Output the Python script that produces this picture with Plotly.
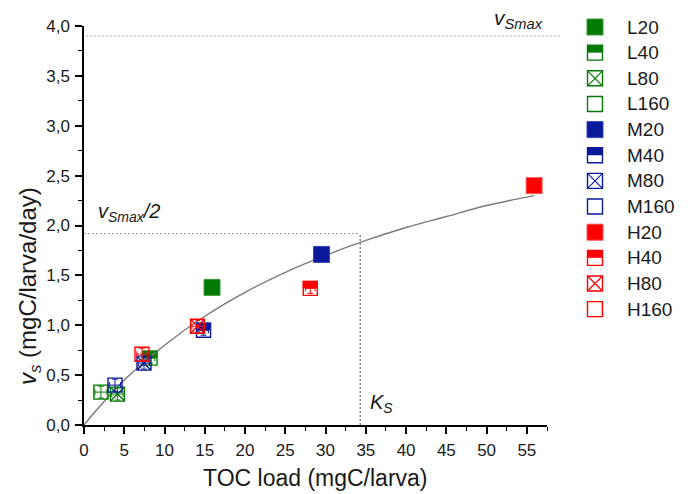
import plotly.graph_objects as go

# ---------------- data ----------------
series_names = ["L20", "L40", "L80", "L160",
                "M20", "M40", "M80", "M160",
                "H20", "H40", "H80", "H160"]
toc_load = [15.9, 8.2, 4.15, 2.1,
            29.5, 14.85, 7.45, 3.85,
            55.9, 28.1, 14.1, 7.2]
vs_rate = [1.38, 0.67, 0.31, 0.33,
           1.71, 0.95, 0.62, 0.40,
           2.40, 1.37, 0.99, 0.71]
toc_err = [0.7, 0.6, 0.7, 0.75,
           0.8, 0.6, 0.7, 0.7,
           0.8, 0.6, 0.7, 0.65]
vs_err = [0.06, 0.05, 0.06, 0.06,
          0.06, 0.05, 0.06, 0.06,
          0.06, 0.05, 0.06, 0.06]

# fitted saturation curve
fit_x = [0, 2, 5, 10, 15, 20, 25, 30, 35, 40, 45, 50, 55.9]
fit_y = [0, 0.19, 0.45, 0.80, 1.09, 1.33, 1.53, 1.70, 1.85, 1.98, 2.09, 2.20, 2.30]

VS_MAX = 3.9
VS_HALF = 1.92
KS = 34.3

x_ticks = [0, 5, 10, 15, 20, 25, 30, 35, 40, 45, 50, 55]
y_ticks = [0, 0.5, 1.0, 1.5, 2.0, 2.5, 3.0, 3.5, 4.0]

# ---------------- styles ----------------
group_colors = {"L": "#007a00", "M": "#0a1a9a", "H": "#ff0000"}
edge_colors = {"L": "#3c9a3c", "M": "#3344bb", "H": "#ff5555"}
dose_style = {"20": "filled", "40": "half", "80": "x", "160": "open"}
symbol_of = {"filled": "square", "half": "square-open",
             "x": "square-x-open", "open": "square-open"}
FONT = "Arial, Liberation Sans, sans-serif"

# plot-area geometry (pixels) for paper conversions
W, H = 688, 494
ML, MR, MT, MB = 84, 141, 26, 69
PW, PH = W - ML - MR, H - MT - MB


def px_x(px):
    return (px - ML) / PW


def px_y(py):
    return (H - MB - py) / PH


fig = go.Figure()

# guide lines
fig.add_trace(go.Scatter(x=[0, KS], y=[VS_HALF, VS_HALF], mode="lines",
                         line=dict(color="#9a9a9a", width=1.2, dash="2px,2px"),
                         showlegend=False, hoverinfo="skip"))
fig.add_trace(go.Scatter(x=[KS, KS], y=[0, VS_HALF], mode="lines",
                         line=dict(color="#5a5a5a", width=1.1, dash="2px,2px"),
                         showlegend=False, hoverinfo="skip"))

# fitted curve
fig.add_trace(go.Scatter(x=fit_x, y=fit_y, mode="lines",
                         line=dict(color="#7a7a7a", width=1.4, shape="spline"),
                         showlegend=False, hoverinfo="skip"))

shapes = []
# v_smax horizontal line across the full width (extends slightly past axis)
shapes.append(dict(type="line", xref="paper", yref="y", x0=0.005, x1=1.028,
                   y0=VS_MAX, y1=VS_MAX,
                   line=dict(color="#9a9a9a", width=1.2, dash="2px,2px")))

for i, name in enumerate(series_names):
    g = name[0]
    style = dose_style[name[1:]]
    color = group_colors[g]
    if style == "filled":
        marker = dict(symbol="square", size=16, color=color,
                      line=dict(color=edge_colors[g], width=1))
    else:
        marker = dict(symbol=symbol_of[style], size=14, color=color,
                      line=dict(color=color, width=1.4))
    fig.add_trace(go.Scatter(
        x=[toc_load[i]], y=[vs_rate[i]], mode="markers", name=name,
        marker=marker, showlegend=False, cliponaxis=False,
        error_x=dict(type="data", array=[toc_err[i]], color=color,
                     thickness=1, width=3),
        error_y=dict(type="data", array=[vs_err[i]], color=color,
                     thickness=1, width=3),
    ))
    if style == "half":
        shapes.append(dict(type="rect", xref="x", yref="y",
                           xsizemode="pixel", ysizemode="pixel",
                           xanchor=toc_load[i], yanchor=vs_rate[i],
                           x0=-7.5, x1=7.5, y0=0, y1=7.5,
                           fillcolor=color, line=dict(width=0),
                           layer="below"))

# ---------------- manual legend ----------------
annotations = []
LEG_X = 595
LEG_Y0 = 27
LEG_DY = 25.65
for i, name in enumerate(series_names):
    g = name[0]
    style = dose_style[name[1:]]
    color = group_colors[g]
    cy = LEG_Y0 + i * LEG_DY
    ax, ay = px_x(LEG_X), px_y(cy)
    base = dict(xref="paper", yref="paper", xsizemode="pixel", ysizemode="pixel",
                xanchor=ax, yanchor=ay)
    if style == "filled":
        shapes.append(dict(type="rect", x0=-8, x1=8, y0=-8, y1=8,
                           fillcolor=color, line=dict(color=edge_colors[g], width=1),
                           **base))
    else:
        if style == "half":
            shapes.append(dict(type="rect", x0=-7.5, x1=7.5, y0=0, y1=7.5,
                               fillcolor=color, line=dict(width=0), **base))
        shapes.append(dict(type="rect", x0=-7.5, x1=7.5, y0=-7.5, y1=7.5,
                           fillcolor="rgba(0,0,0,0)",
                           line=dict(color=color, width=1.4), **base))
        if style == "x":
            shapes.append(dict(type="path",
                               path="M-7.5,-7.5L7.5,7.5M-7.5,7.5L7.5,-7.5",
                               line=dict(color=color, width=1.2), **base))
    annotations.append(dict(xref="paper", yref="paper", x=px_x(625), y=ay,
                            xanchor="left", yanchor="middle", showarrow=False,
                            text=name, font=dict(family=FONT, size=19, color="#1a1a1a")))

# text labels on the chart
annotations.append(dict(xref="paper", yref="paper", x=px_x(518), y=px_y(19),
                        showarrow=False, xanchor="center", yanchor="middle",
                        text="<i>v<sub>Smax</sub></i>",
                        font=dict(family=FONT, size=21, color="#1a1a1a")))
annotations.append(dict(xref="x", yref="y", x=5.6, y=2.13, showarrow=False,
                        xanchor="center", yanchor="middle",
                        text="<i>v<sub>Smax</sub>/2</i>",
                        font=dict(family=FONT, size=20, color="#1a1a1a")))
annotations.append(dict(xref="x", yref="y", x=36.9, y=0.22, showarrow=False,
                        xanchor="center", yanchor="middle",
                        text="<i>K<sub>S</sub></i>",
                        font=dict(family=FONT, size=20, color="#1a1a1a")))
# axis titles
annotations.append(dict(xref="paper", yref="paper", x=px_x(29), y=px_y(286),
                        showarrow=False, textangle=-90,
                        xanchor="center", yanchor="middle",
                        text="<i>v<sub>s</sub></i> (mgC/larva/day)",
                        font=dict(family=FONT, size=24, color="#1a1a1a")))
annotations.append(dict(xref="paper", yref="paper", x=px_x(315), y=px_y(478),
                        showarrow=False, xanchor="center", yanchor="middle",
                        text="TOC load (mgC/larva)",
                        font=dict(family=FONT, size=23, color="#1a1a1a")))

axis_common = dict(showline=True, linecolor="black", linewidth=1.5,
                   ticks="outside", ticklen=7, tickwidth=1.5, tickcolor="black",
                   showgrid=False, zeroline=False, mirror=False,
                   ticklabelstandoff=2,
                   tickfont=dict(family=FONT, size=17, color="#1a1a1a"))

fig.update_layout(
    width=W, height=H,
    margin=dict(l=ML, r=MR, t=MT, b=MB, pad=0),
    paper_bgcolor="white", plot_bgcolor="white",
    separators=",.",
    showlegend=False,
    shapes=shapes,
    annotations=annotations,
    xaxis=dict(range=[0, 57.5], tickmode="array", tickvals=x_ticks,
               minor=dict(dtick=2.5, tick0=0, ticks="outside", ticklen=4,
                          tickwidth=1.2, tickcolor="black"),
               **axis_common),
    yaxis=dict(range=[0, 4.0], tickmode="array", tickvals=y_ticks,
               tickformat=".1f",
               minor=dict(dtick=0.25, tick0=0, ticks="outside", ticklen=4,
                          tickwidth=1.2, tickcolor="black"),
               **axis_common),
)

fig.write_html("out.html",
               config={"displayModeBar": False},
               post_script="document.body.style.margin='0';"
                           "document.body.style.overflow='hidden';")
